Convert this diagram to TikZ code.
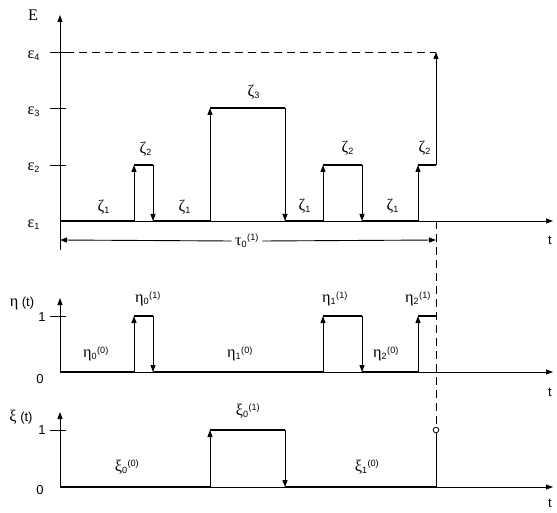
\documentclass[tikz,border=0pt]{standalone}
\usepackage{fontspec}
\setmainfont{Liberation Sans}
\newfontfamily\grk[Scale=1.25]{Liberation Serif}
\usetikzlibrary{arrows.meta}

\newcommand{\gsym}[3]{{\grk #1}\textsubscript{#2}\textsuperscript{#3}}

\begin{document}
\begin{tikzpicture}[x=1pt, y=-1pt,
    font=\fontsize{13}{15}\selectfont,
    tip/.style={-{Triangle[length=7pt,width=5pt]}},
    axis/.style={tip, line width=0.9pt},
    jump/.style={tip, line width=0.9pt},
    lvl/.style={line width=2.8pt},
    tickmark/.style={line width=0.9pt},
    guide/.style={line width=0.9pt, dash pattern=on 8pt off 5pt}]
    \useasboundingbox (0,0) rectangle (557,513);

    % top: energy levels
    \draw[axis] (60,250) -- (60,15);
    \draw[axis] (60,221) -- (553,221);
    \foreach \y in {52,108,165}
        \draw[tickmark] (50,\y) -- (66,\y);
    \node (lE) at (33,15) {\grk Ε};
    \foreach \i/\y in {1/225,2/168,3/112,4/56}
        \node (eps\i) at (34,\y) {\gsym{ε}{\i}{}};
    \node (t1) at (550,240) {t};
    \draw[guide] (66,52) -- (436,52);
    \draw[guide] (436,221) -- (436,427);
    \foreach \a/\b/\l in {60/134/221, 134/153/165, 153/210/221, 210/285/108,
                          285/323/221, 323/362/165, 362/418/221, 418/436/165}
        \draw[lvl] (\a,\l) -- (\b,\l);
    \foreach \x/\f/\t in {134/221/165, 153/165/221, 210/221/108, 285/108/221,
                          323/221/165, 362/165/221, 418/221/165, 436/165/52}
        \draw[jump] (\x,\f) -- (\x,\t);
    \foreach \x/\y/\k [count=\n] in {104/207/1, 146/149/2, 185/207/1, 254/92/3,
                                     305/206/1, 348/148/2, 393/206/1, 425/148/2}
        \node (zeta\n) at (\x,\y) {\gsym{ζ}{\k}{}};
    \node (tau) at (247,241) {\gsym{τ}{0}{(1)}};
    \draw[tip, line width=0.9pt] (tau.west) -- (60,240);
    \draw[tip, line width=0.9pt] (tau.east) -- (436,240);

    % middle: eta(t)
    \draw[axis] (60,372) -- (60,298);
    \draw[axis] (60,372) -- (553,372);
    \draw[tickmark] (50,316) -- (66,316);
    \node (leta) at (22,304) {{\grk η} (t)};
    \node (eta1) at (42,317) {1};
    \node (eta0) at (40,379) {0};
    \node (t2) at (550,392) {t};
    \foreach \a/\b/\l in {60/134/372, 134/153/316, 153/323/372, 323/362/316,
                          362/418/372, 418/436/316}
        \draw[lvl] (\a,\l) -- (\b,\l);
    \foreach \x/\f/\t in {134/372/316, 153/316/372, 323/372/316, 362/316/372,
                          418/372/316}
        \draw[jump] (\x,\f) -- (\x,\t);
    \node (h00) at (96,354) {\gsym{η}{0}{(0)}};
    \node (h01) at (148,299) {\gsym{η}{0}{(1)}};
    \node (h10) at (240,354) {\gsym{η}{1}{(0)}};
    \node (h11) at (335,299) {\gsym{η}{1}{(1)}};
    \node (h20) at (386,354) {\gsym{η}{2}{(0)}};
    \node (h21) at (418,299) {\gsym{η}{2}{(1)}};

    % bottom: xi(t)
    \draw[axis] (60,487) -- (60,412);
    \draw[axis] (60,487) -- (553,487);
    \draw[tickmark] (50,430) -- (66,430);
    \node (lxi) at (21,417) {{\grk ξ} (t)};
    \node (xi1) at (42,430) {1};
    \node (xi0) at (40,490) {0};
    \node (t3) at (550,503) {t};
    \foreach \a/\b/\l in {60/210/487, 210/285/430, 285/436/487}
        \draw[lvl] (\a,\l) -- (\b,\l);
    \foreach \x/\f/\t in {210/487/430, 285/430/487}
        \draw[jump] (\x,\f) -- (\x,\t);
    \node[circle, draw, fill=white, inner sep=0pt, minimum size=5.6pt,
          line width=0.8pt] (end) at (436,430) {};
    \draw[line width=0.9pt] (436,487) -- (end.south);
    \node (x00) at (127,467) {\gsym{ξ}{0}{(0)}};
    \node (x01) at (248,411) {\gsym{ξ}{0}{(1)}};
    \node (x10) at (367,467) {\gsym{ξ}{1}{(0)}};
\end{tikzpicture}
\end{document}
